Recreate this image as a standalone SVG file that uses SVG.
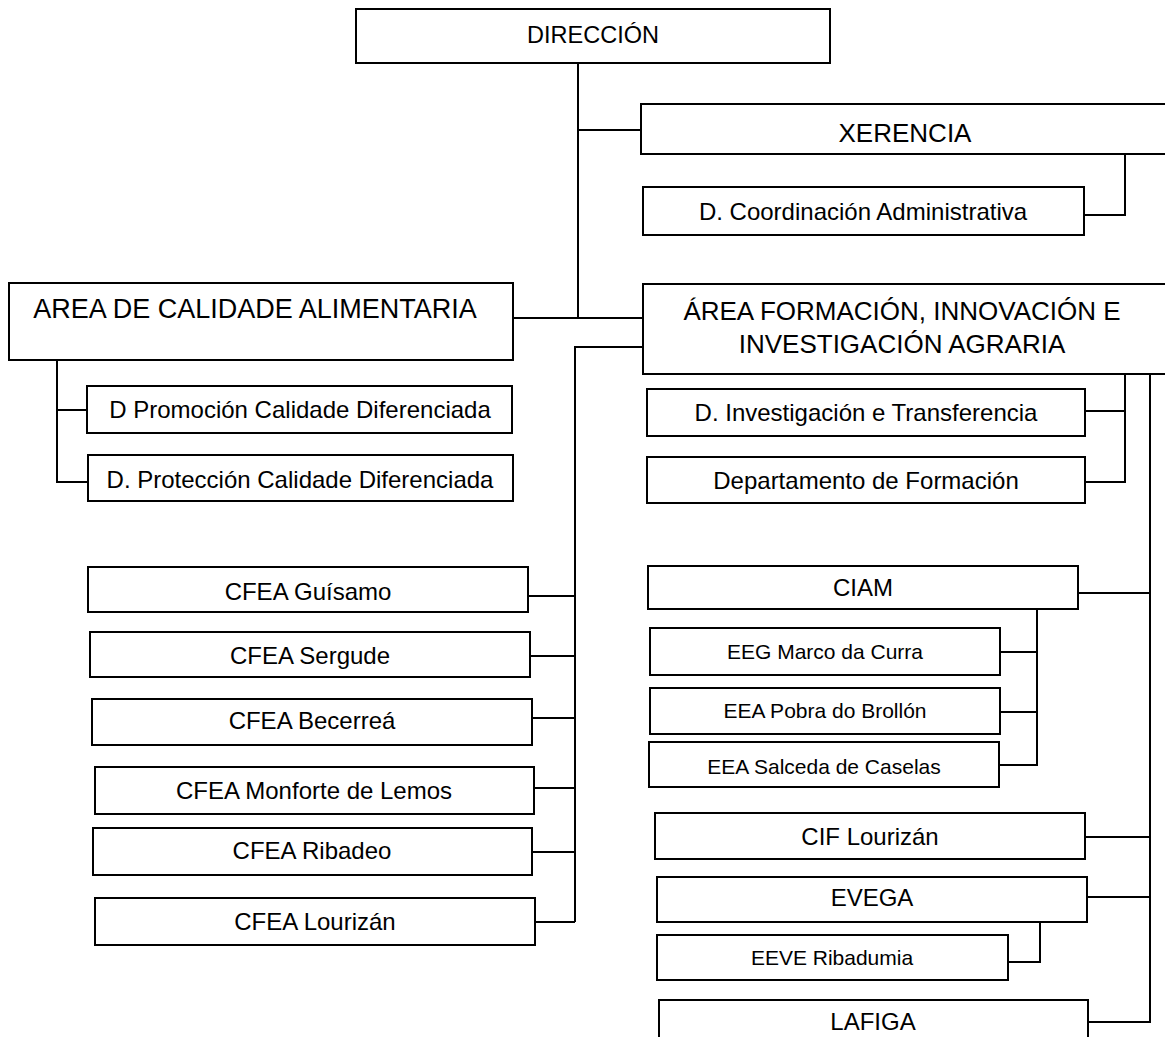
<svg xmlns="http://www.w3.org/2000/svg" width="1165" height="1037" viewBox="0 0 1165 1037">
<style>
.b{fill:#fff;stroke:#000;stroke-width:2}
.c{fill:none;stroke:#000;stroke-width:2}
text{font-family:"Liberation Sans",Arial,sans-serif;fill:#000;text-anchor:middle}
.h{font-size:26px}
.h2{font-size:27px}
.d{font-size:23.5px}
.m{font-size:24px}
.s{font-size:21px}
</style>
<rect width="1165" height="1037" fill="#fff"/>
<g id="connectors">
<path class="c" d="M578 63V318M578 130H641M513 318H643"/>
<path class="c" d="M1125 154V215H1084"/>
<path class="c" d="M643 347H575V922"/>
<path class="c" d="M57 360V482H88M57 410H87"/>
<path class="c" d="M1125 374V482H1085M1125 411H1085"/>
<path class="c" d="M1150 374V1022H1088M1078 593H1150M1085 837H1150M1087 897H1150"/>
<path class="c" d="M1037 609V765H999M1000 652H1037M1000 712H1037"/>
<path class="c" d="M1040 922V962H1008"/>
<path class="c" d="M528 596H575M530 656H575M532 718H575M534 788H575M532 852H575M535 922H575"/>
</g>
<g id="n-direccion"><rect class="b" x="356" y="9" width="474" height="54"/><text class="d" x="593" y="43">DIRECCIÓN</text></g>
<g id="n-xerencia"><rect class="b" x="641" y="104" width="540" height="50"/><text class="h" x="905" y="142">XERENCIA</text></g>
<g id="n-dcoord"><rect class="b" x="643" y="187" width="441" height="48"/><text class="m" x="863" y="220">D. Coordinación Administrativa</text></g>
<g id="n-calidade"><rect class="b" x="9" y="283" width="504" height="77"/><text class="h2" x="255" y="318">AREA DE CALIDADE ALIMENTARIA</text></g>
<g id="n-formacion"><rect class="b" x="643" y="284" width="540" height="90"/><text class="h" x="902" y="320">ÁREA FORMACIÓN, INNOVACIÓN E</text><text class="h" x="902" y="353">INVESTIGACIÓN AGRARIA</text></g>
<g id="n-dpromo"><rect class="b" x="87" y="386" width="425" height="47"/><text class="m" x="300" y="418">D Promoción Calidade Diferenciada</text></g>
<g id="n-dprot"><rect class="b" x="88" y="455" width="425" height="46"/><text class="m" x="300" y="488">D. Protección Calidade Diferenciada</text></g>
<g id="n-dinv"><rect class="b" x="647" y="389" width="438" height="47"/><text class="m" x="866" y="421">D. Investigación e Transferencia</text></g>
<g id="n-dform"><rect class="b" x="647" y="457" width="438" height="46"/><text class="m" x="866" y="489">Departamento de Formación</text></g>
<g id="n-guisamo"><rect class="b" x="88" y="567" width="440" height="45"/><text class="m" x="308" y="600">CFEA Guísamo</text></g>
<g id="n-sergude"><rect class="b" x="90" y="632" width="440" height="45"/><text class="m" x="310" y="664">CFEA Sergude</text></g>
<g id="n-becerrea"><rect class="b" x="92" y="699" width="440" height="46"/><text class="m" x="312" y="729">CFEA Becerreá</text></g>
<g id="n-monforte"><rect class="b" x="95" y="767" width="439" height="47"/><text class="m" x="314" y="799">CFEA Monforte de Lemos</text></g>
<g id="n-ribadeo"><rect class="b" x="93" y="828" width="439" height="47"/><text class="m" x="312" y="859">CFEA Ribadeo</text></g>
<g id="n-lourizan"><rect class="b" x="95" y="898" width="440" height="47"/><text class="m" x="315" y="930">CFEA Lourizán</text></g>
<g id="n-ciam"><rect class="b" x="648" y="566" width="430" height="43"/><text class="m" x="863" y="596">CIAM</text></g>
<g id="n-eeg"><rect class="b" x="650" y="628" width="350" height="47"/><text class="s" x="825" y="659">EEG Marco da Curra</text></g>
<g id="n-eeapobra"><rect class="b" x="650" y="688" width="350" height="46"/><text class="s" x="825" y="718">EEA Pobra do Brollón</text></g>
<g id="n-eeasalceda"><rect class="b" x="649" y="742" width="350" height="45"/><text class="s" x="824" y="774">EEA Salceda de Caselas</text></g>
<g id="n-cif"><rect class="b" x="655" y="813" width="430" height="46"/><text class="m" x="870" y="845">CIF Lourizán</text></g>
<g id="n-evega"><rect class="b" x="657" y="877" width="430" height="45"/><text class="m" x="872" y="906">EVEGA</text></g>
<g id="n-eeve"><rect class="b" x="657" y="935" width="351" height="45"/><text class="s" x="832" y="965">EEVE Ribadumia</text></g>
<g id="n-lafiga"><rect class="b" x="659" y="1000" width="429" height="50"/><text class="m" x="873" y="1030">LAFIGA</text></g>
</svg>
